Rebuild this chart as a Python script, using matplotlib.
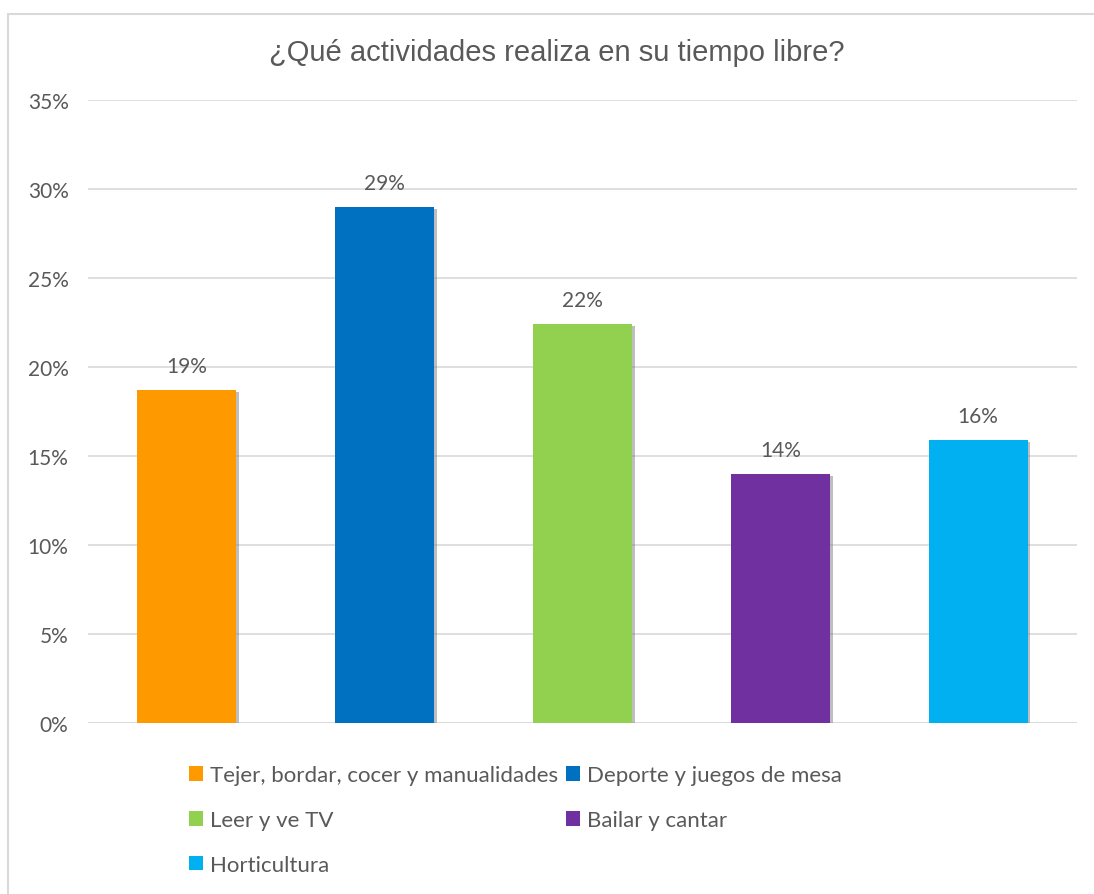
import matplotlib.pyplot as plt
import matplotlib.patheffects as pe
from matplotlib.patches import Rectangle, Patch
from matplotlib.ticker import PercentFormatter

titulo = "¿Qué actividades realiza en su tiempo libre?"
actividades = ["Tejer, bordar, cocer y manualidades", "Deporte y juegos de mesa",
               "Leer y ve TV", "Bailar y cantar", "Horticultura"]
porcentajes = [0.187, 0.290, 0.224, 0.140, 0.159]
colores = ["#FF9900", "#0070C0", "#92D050", "#7030A0", "#00B0F0"]

gris = "#595959"
plt.rcParams['font.family'] = ['Lato', 'DejaVu Sans']

fig = plt.figure(figsize=(10.94, 8.95), dpi=100)
# marco gris claro del grafico
fig.patches.append(Rectangle((8 / 1094, -0.5), 2.0, 1.5 - 15 / 895,
                             transform=fig.transFigure, fill=False,
                             edgecolor="#D9D9D9", linewidth=1.5))

ax = fig.add_axes([88 / 1094, 1 - 724 / 895, 989 / 1094, 623 / 895])
x = range(len(actividades))
sombra = [pe.SimplePatchShadow(offset=(2, -1.5), shadow_rgbFace="#7F7F7F", alpha=0.5),
          pe.Normal()]
barras = ax.bar(x, porcentajes, width=0.5, color=colores, zorder=3)
for b in barras:
    b.set_path_effects(sombra)

for i, v in enumerate(porcentajes):
    ax.annotate(f"{v:.0%}", (i, v), xytext=(0, 10), textcoords="offset points",
                ha="center", va="bottom", fontsize=15, color=gris)

ax.set_xlim(-0.5, 4.5)
ax.set_ylim(0, 0.35)
ax.set_yticks([0, 0.05, 0.10, 0.15, 0.20, 0.25, 0.30, 0.35])
ax.yaxis.set_major_formatter(PercentFormatter(1.0, decimals=0))
ax.set_xticks([])
ax.tick_params(axis="y", length=0, labelsize=15, labelcolor=gris, pad=14)
ax.grid(axis="y", color="#D9D9D9", linewidth=1.2, zorder=0)
for s in ax.spines.values():
    s.set_visible(False)
ax.axhline(0, color="#D9D9D9", linewidth=1.2, zorder=1)

fig.text(0.509, 1 - 53 / 895, titulo, ha="center", va="center",
         fontsize=21, color=gris, family=['Liberation Sans', 'DejaVu Sans'])

# leyenda en dos columnas: orden por columnas
orden = [0, 2, 4, 1, 3]
manijas = [Patch(facecolor=colores[i], edgecolor="none") for i in orden]
fig.legend(manijas, [actividades[i] for i in orden], ncol=2,
           loc="upper left", bbox_to_anchor=(189 / 1094, 1 - 766 / 895),
           frameon=False, fontsize=16, labelcolor=gris,
           handlelength=0.65, handleheight=0.65, handletextpad=0.3,
           columnspacing=0.35, labelspacing=1.12, borderaxespad=0, borderpad=0)

fig.savefig("out.png", dpi=100, facecolor="white")
